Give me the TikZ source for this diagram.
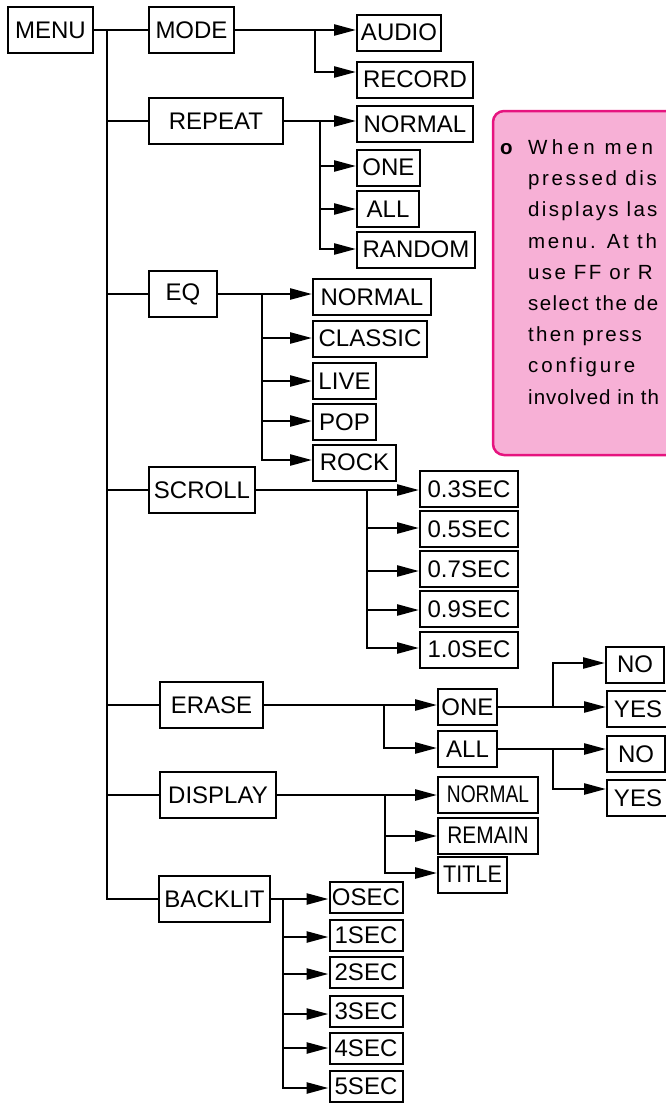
\documentclass[tikz,border=0pt]{standalone}
\usepackage{fontspec}
\usepackage{graphicx}
\setmainfont{Liberation Sans}
\newfontfamily\notefont{Liberation Sans}
\usetikzlibrary{arrows.meta}

\definecolor{notepink}{RGB}{247,176,214}
\definecolor{noteedge}{RGB}{230,20,127}
% one justified line of the note: tracking, then text
\newcommand{\noteline}[2]{{\addfontfeature{LetterSpace=#1}#2}}

\begin{document}
\begin{tikzpicture}[
  x=1pt,y=-1pt,
  every node/.style={font=\fontsize{24}{26}\selectfont,inner sep=0pt},
  mainbox/.style={draw,line width=2pt,minimum height=46pt},
  subbox/.style={draw,line width=2pt,minimum height=36pt},
  secbox/.style={draw,line width=2pt,minimum height=31pt,minimum width=73pt},
  wire/.style={line width=2.5pt},
  arr/.style={wire,-{Triangle[length=22pt,width=11pt]}}
]
  \useasboundingbox (0,0) rectangle (666,1104);
  \clip (0,0) rectangle (666,1104);

  % note box, cut off at the right edge
  \draw[noteedge,fill=notepink,line width=2.5pt,rounded corners=11pt] (493,111) rectangle (730,455);
  \node[anchor=base west,font=\notefont\bfseries\fontsize{20.5}{31.2}\selectfont] (bullet) at (500,154) {o};
  \node[anchor=north west,align=left,font=\notefont\fontsize{20.5}{31.2}\selectfont] (note) at (528,139.5)
    {\noteline{21}{When men}\\
     \noteline{12.9}{pressed dis}\\
     \noteline{11.4}{displays las}\\
     \noteline{12.9}{menu. At th}\\
     \noteline{11.4}{use FF or R}\\
     \noteline{6.7}{select the de}\\
     \noteline{10.9}{then press}\\
     \noteline{13.9}{configure}\\
     \noteline{5}{involved in th}};

  % main menu column
  \node[mainbox,minimum width=85pt] (menu) at (50.5,30) {MENU};
  \node[mainbox,minimum width=85pt] (mode) at (191.5,30) {MODE};
  \node[mainbox,minimum width=134pt] (repeat) at (216,121) {REPEAT};
  \node[mainbox,minimum width=68pt] (eq) at (183,294) {EQ};
  \node[mainbox,minimum width=106pt] (scroll) at (202,490) {SCROLL};
  \node[mainbox,minimum width=103pt] (erase) at (211.5,705) {ERASE};
  \node[mainbox,minimum width=116pt] (display) at (218,795) {DISPLAY};
  \node[mainbox,minimum width=111pt] (backlit) at (214.5,899) {BACKLIT};

  % options
  \node[subbox,minimum width=84pt] (audio) at (399,32.5) {AUDIO};
  \node[subbox,minimum width=116pt] (record) at (415,79.5) {RECORD};

  \node[subbox,minimum width=116pt] (rnormal) at (415,124) {NORMAL};
  \node[subbox,minimum width=63pt] (rone) at (388.5,167.5) {ONE};
  \node[subbox,minimum width=62pt] (rall) at (388,209) {ALL};
  \node[subbox,minimum width=118pt] (rrandom) at (416,249.5) {RANDOM};

  \node[subbox,minimum width=118pt] (enormal) at (372,297) {NORMAL};
  \node[subbox,minimum width=114pt] (classic) at (370,338.5) {CLASSIC};
  \node[subbox,minimum width=63pt] (live) at (344.5,381) {LIVE};
  \node[subbox,minimum width=63pt] (pop) at (344.5,422) {POP};
  \node[subbox,minimum width=83pt] (rock) at (354.5,462.5) {ROCK};

  \node[subbox,minimum width=98pt] (s03) at (469,489) {0.3SEC};
  \node[subbox,minimum width=98pt] (s05) at (469,529) {0.5SEC};
  \node[subbox,minimum width=98pt] (s07) at (469,569) {0.7SEC};
  \node[subbox,minimum width=98pt] (s09) at (469,609) {0.9SEC};
  \node[subbox,minimum width=98pt] (s10) at (469,649.5) {1.0SEC};

  \node[subbox,minimum width=59pt] (eone) at (467.5,707) {ONE};
  \node[subbox,minimum width=59pt] (eall) at (467.5,749) {ALL};
  \node[subbox,minimum width=58pt] (ono) at (635,664.5) {NO};
  \node[subbox,minimum width=62pt] (oyes) at (638,709) {YES};
  \node[subbox,minimum width=58pt] (ano) at (636,754) {NO};
  \node[subbox,minimum width=62pt] (ayes) at (638,798) {YES};

  \node[subbox,minimum width=100pt] (dnormal) at (488,794.5) {\scalebox{0.8}[1]{NORMAL}};
  \node[subbox,minimum width=100pt] (remain) at (488,835.5) {\scalebox{0.87}[1]{REMAIN}};
  \node[subbox,minimum width=69pt] (title) at (472.5,874.5) {\scalebox{0.9}[1]{TITLE}};

  \node[secbox] (b0) at (366,897.5) {OSEC};
  \node[secbox] (b1) at (366,935.5) {1SEC};
  \node[secbox] (b2) at (366,972.5) {2SEC};
  \node[secbox] (b3) at (366,1011.5) {3SEC};
  \node[secbox] (b4) at (366,1048.5) {4SEC};
  \node[secbox] (b5) at (366,1086.5) {5SEC};

  % branch columns
  \coordinate (trunk) at (107,0);
  \coordinate (modebr) at (315,0);
  \coordinate (repbr) at (320,0);
  \coordinate (eqbr) at (262,0);
  \coordinate (scrbr) at (367,0);
  \coordinate (erbr) at (384,0);
  \coordinate (yesbr) at (553,0);
  \coordinate (disbr) at (385,0);
  \coordinate (bakbr) at (283,0);

  \draw[wire] (menu.east) -- (mode.west);
  \draw[wire] (menu.east -| trunk) |- (backlit.west);
  \draw[wire] (trunk |- repeat.west) -- (repeat.west);
  \draw[wire] (trunk |- eq.west) -- (eq.west);
  \draw[wire] (trunk |- scroll.west) -- (scroll.west);
  \draw[wire] (trunk |- erase.west) -- (erase.west);
  \draw[wire] (trunk |- display.west) -- (display.west);

  \draw[arr] (mode.east) -- (audio.west |- mode.east);
  \draw[arr] (modebr |- mode.east) |- (record.west |- 0,72);

  \draw[arr] (repeat.east) -- (rnormal.west |- repeat.east);
  \draw[arr] (repbr |- repeat.east) |- (rone.west |- 0,166);
  \draw[arr] (repbr |- repeat.east) |- (rall.west |- 0,209);
  \draw[arr] (repbr |- repeat.east) |- (rrandom.west |- 0,249);

  \draw[arr] (eq.east) -- (enormal.west |- eq.east);
  \draw[arr] (eqbr |- eq.east) |- (classic.west |- 0,338);
  \draw[arr] (eqbr |- eq.east) |- (live.west |- 0,381);
  \draw[arr] (eqbr |- eq.east) |- (pop.west |- 0,421);
  \draw[arr] (eqbr |- eq.east) |- (rock.west |- 0,460);

  \draw[arr] (scroll.east) -- (s03.west |- scroll.east);
  \draw[arr] (scrbr |- scroll.east) |- (s05.west |- 0,528);
  \draw[arr] (scrbr |- scroll.east) |- (s07.west |- 0,571);
  \draw[arr] (scrbr |- scroll.east) |- (s09.west |- 0,610);
  \draw[arr] (scrbr |- scroll.east) |- (s10.west |- 0,648);

  \draw[arr] (erase.east) -- (eone.west |- erase.east);
  \draw[arr] (erbr |- erase.east) |- (eall.west |- 0,748);
  \draw[arr] (eone.east) -- (oyes.west |- eone.east);
  \draw[arr] (yesbr |- eone.east) |- (ono.west |- 0,663);
  \draw[arr] (eall.east) -- (ano.west |- eall.east);
  \draw[arr] (yesbr |- eall.east) |- (ayes.west |- 0,789);

  \draw[arr] (display.east) -- (dnormal.west |- display.east);
  \draw[arr] (disbr |- display.east) |- (remain.west |- 0,836);
  \draw[arr] (disbr |- display.east) |- (title.west |- 0,873);

  \draw[arr] (backlit.east) -- (b0.west |- backlit.east);
  \draw[arr] (bakbr |- backlit.east) |- (b1.west |- 0,937);
  \draw[arr] (bakbr |- backlit.east) |- (b2.west |- 0,974);
  \draw[arr] (bakbr |- backlit.east) |- (b3.west |- 0,1014);
  \draw[arr] (bakbr |- backlit.east) |- (b4.west |- 0,1048);
  \draw[arr] (bakbr |- backlit.east) |- (b5.west |- 0,1088);
\end{tikzpicture}
\end{document}
